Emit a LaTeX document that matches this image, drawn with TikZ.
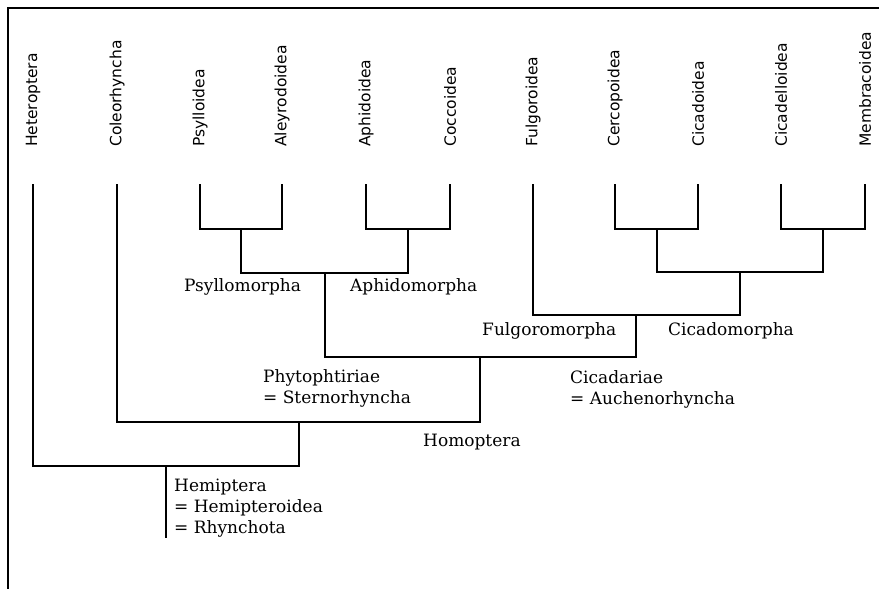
\documentclass[tikz,border=0pt]{standalone}
\usepackage{fontspec}
\setmainfont{DejaVu Serif}
\setsansfont{DejaVu Sans}
\usetikzlibrary{positioning}

\begin{document}
\begin{tikzpicture}[x=1pt, y=-1pt,
  taxon/.style={rotate=90, anchor=west, inner sep=0pt, font=\sffamily\fontsize{15.5}{18}\selectfont},
  clade/.style={anchor=base west, inner sep=0pt, font=\fontsize{17}{21}\selectfont},
  cladeblock/.style={anchor=north west, inner sep=0pt, align=left, font=\fontsize{17}{21}\selectfont},
  branch/.style={line width=2pt, line cap=rect},
  frame/.style={line width=2pt}]
  \useasboundingbox (0,0) rectangle (879,589);
  \coordinate (frame-bl) at (8,589);
  \coordinate (frame-tr) at (879,8);
  \draw[frame] (frame-bl) |- (frame-tr);

  \node[taxon] (heter) at (33,147) {Heteroptera};
  \node[taxon] (coleo) at (117,147) {Coleorhyncha};
  \node[taxon] (psyl) at (200,147) {Psylloidea};
  \node[taxon] (aley) at (282,147) {Aleyrodoidea};
  \node[taxon] (aphi) at (366,147) {Aphidoidea};
  \node[taxon] (cocc) at (450,147) {Coccoidea};
  \node[taxon] (fulg) at (533,147) {Fulgoroidea};
  \node[taxon] (cerc) at (615,147) {Cercopoidea};
  \node[taxon] (cica) at (698,147) {Cicadoidea};
  \node[taxon] (cicd) at (781,147) {Cicadelloidea};
  \node[taxon] (memb) at (865,147) {Membracoidea};

  \coordinate (heter-t) at (33,185);
  \coordinate (coleo-t) at (117,185);
  \coordinate (psyl-t) at (200,185);
  \coordinate (aley-t) at (282,185);
  \coordinate (aphi-t) at (366,185);
  \coordinate (cocc-t) at (450,185);
  \coordinate (fulg-t) at (533,185);
  \coordinate (cerc-t) at (615,185);
  \coordinate (cica-t) at (698,185);
  \coordinate (cicd-t) at (781,185);
  \coordinate (memb-t) at (865,185);

  \coordinate (psy) at (241,229);
  \coordinate (aph) at (408,229);
  \coordinate (ster) at (325,273);
  \coordinate (cer) at (657,229);
  \coordinate (mem) at (823,229);
  \coordinate (cim) at (740,272);
  \coordinate (auc) at (636,315);
  \coordinate (pha) at (480,357);
  \coordinate (hom) at (299,422);
  \coordinate (hem) at (166,466);
  \coordinate (root) at (166,537);

  \draw[branch] (psyl-t) |- (psy) -| (aley-t);
  \draw[branch] (aphi-t) |- (aph) -| (cocc-t);
  \draw[branch] (psy) |- (ster) -| (aph);
  \draw[branch] (cerc-t) |- (cer) -| (cica-t);
  \draw[branch] (cicd-t) |- (mem) -| (memb-t);
  \draw[branch] (cer) |- (cim) -| (mem);
  \draw[branch] (fulg-t) |- (auc) -| (cim);
  \draw[branch] (ster) |- (pha) -| (auc);
  \draw[branch] (coleo-t) |- (hom) -| (pha);
  \draw[branch] (heter-t) |- (hem) -| (hom);
  \draw[branch] (hem) -- (root);

  \node[clade] (psylm) at (184,291) {Psyllomorpha};
  \node[clade] (aphim) at (350,291) {Aphidomorpha};
  \node[clade] (fulgm) at (482,335) {Fulgoromorpha};
  \node[clade] (cicam) at (668,335) {Cicadomorpha};
  \node[clade] (homop) at (423,446) {Homoptera};
  \node[cladeblock] (phyto) at (263,369) {Phytophtiriae\\= Sternorhyncha};
  \node[cladeblock] (cicad) at (570,370) {Cicadariae\\= Auchenorhyncha};
  \node[cladeblock] (hemip) at (174,479) {Hemiptera\\= Hemipteroidea\\= Rhynchota};
\end{tikzpicture}
\end{document}
